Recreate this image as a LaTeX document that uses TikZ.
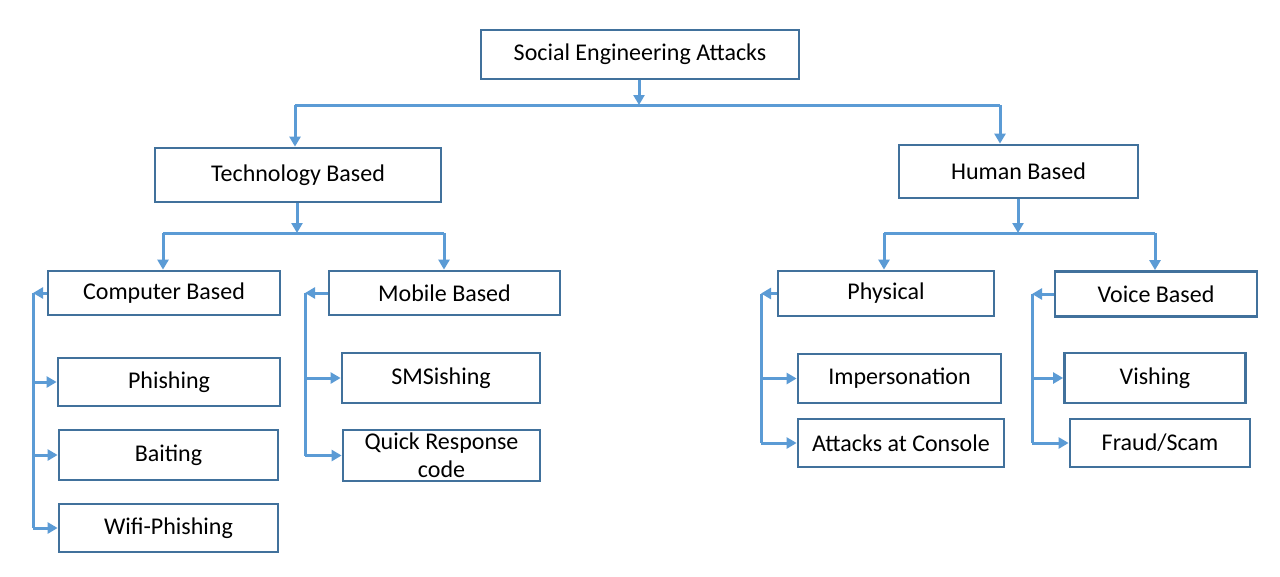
\documentclass[tikz,border=0pt]{standalone}
\usepackage{fontspec}
\setmainfont{Carlito}
\usetikzlibrary{arrows.meta}
\definecolor{boxc}{HTML}{41719C}
\definecolor{linec}{HTML}{5B9BD5}
\begin{document}
\begin{tikzpicture}[x=1pt,y=-1pt,
  box/.style={draw=boxc,line width=2.8pt,rectangle,inner sep=0pt,fill=white,
    font=\fontsize{24}{28}\selectfont,text=black,align=center},
  conn/.style={draw=linec,line width=3pt},
  arr/.style={conn,-{Triangle[width=11pt,length=10pt]}}]
\useasboundingbox[fill=white] (0,0) rectangle (1280,576);
% boxes
\node[box,minimum width=318pt,minimum height=49pt] (se) at (640,54.5) {Social Engineering Attacks};
\node[box,minimum width=286pt,minimum height=54pt] (tech) at (298,175) {Technology Based};
\node[box,minimum width=239pt,minimum height=53pt] (human) at (1018.5,171.5) {Human Based};
\node[box,minimum width=232pt,minimum height=44pt] (comp) at (164,293) {Computer Based};
\node[box,minimum width=231pt,minimum height=44pt] (mob) at (444.5,293) {Mobile Based};
\node[box,minimum width=222pt,minimum height=48pt] (phish) at (169,382) {Phishing};
\node[box,minimum width=219pt,minimum height=50pt] (bait) at (168.5,455) {Baiting};
\node[box,minimum width=219pt,minimum height=48pt] (wifi) at (168.5,528) {Wifi-Phishing};
\node[box,minimum width=198pt,minimum height=50pt] (sms) at (441,378) {SMSishing};
\node[box,minimum width=197pt,minimum height=51pt] (qr) at (441.5,455.5) {Quick Response\\code};
\node[box,minimum width=216pt,minimum height=45pt] (phys) at (886,293.5) {Physical};
\node[box,minimum width=202pt,minimum height=45pt] (voice) at (1156,294) {Voice Based};
\node[box,minimum width=203pt,minimum height=49pt] (imp) at (899.5,378.5) {Impersonation};
\node[box,minimum width=206pt,minimum height=48pt] (cons) at (901,443) {Attacks at Console};
\node[box,minimum width=181pt,minimum height=50pt] (vish) at (1155,378) {Vishing};
\node[box,minimum width=180pt,minimum height=48pt] (fraud) at (1160,443) {Fraud/Scam};
% junction coordinates
\coordinate (j1) at (639,105);
\coordinate (j1l) at (295,105);
\coordinate (j1r) at (1000,105);
\coordinate (j2) at (297,233);
\coordinate (j2l) at (163,233);
\coordinate (j2r) at (444,233);
\coordinate (j3) at (1018,233);
\coordinate (j3l) at (884,233);
\coordinate (j3r) at (1155,233);
\coordinate (cl) at (33,293);
\coordinate (ml) at (305,293);
\coordinate (pl) at (761,293.5);
\coordinate (vl) at (1032,294);
% top level
\draw[arr] (j1 |- se.south) -- (j1);
\draw[conn] (j1l) -- (j1r);
\draw[arr] (j1l) -- (j1l |- tech.north);
\draw[arr] (j1r) -- (j1r |- human.north);
% technology
\draw[arr] (j2 |- tech.south) -- (j2);
\draw[conn] (j2l) -- (j2r);
\draw[arr] (j2l) -- (j2l |- comp.north);
\draw[arr] (j2r) -- (j2r |- mob.north);
% human
\draw[arr] (j3 |- human.south) -- (j3);
\draw[conn] (j3l) -- (j3r);
\draw[arr] (j3l) -- (j3l |- phys.north);
\draw[arr] (j3r) -- (j3r |- voice.north);
% computer based
\draw[arr] (comp.west) -- (cl);
\draw[conn] (cl) -- (cl |- wifi.west);
\draw[arr] (cl |- phish.west) -- (phish.west);
\draw[arr] (cl |- bait.west) -- (bait.west);
\draw[arr] (cl |- wifi.west) -- (wifi.west);
% mobile based
\draw[arr] (mob.west) -- (ml);
\draw[conn] (ml) -- (ml |- qr.west);
\draw[arr] (ml |- sms.west) -- (sms.west);
\draw[arr] (ml |- qr.west) -- (qr.west);
% physical
\draw[arr] (phys.west) -- (pl);
\draw[conn] (pl) -- (pl |- cons.west);
\draw[arr] (pl |- imp.west) -- (imp.west);
\draw[arr] (pl |- cons.west) -- (cons.west);
% voice
\draw[arr] (voice.west) -- (vl);
\draw[conn] (vl) -- (vl |- fraud.west);
\draw[arr] (vl |- vish.west) -- (vish.west);
\draw[arr] (vl |- fraud.west) -- (fraud.west);
\end{tikzpicture}
\end{document}
